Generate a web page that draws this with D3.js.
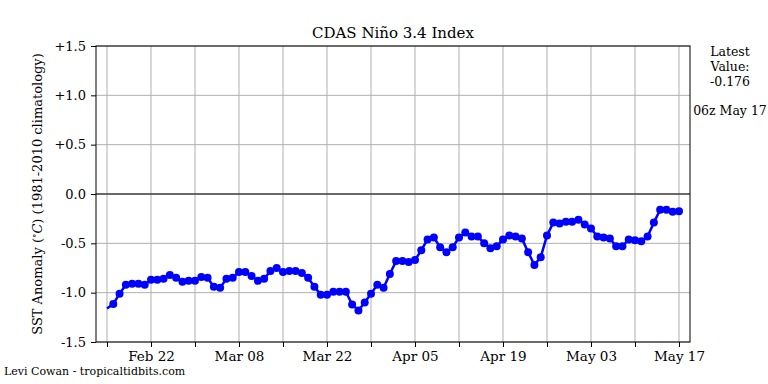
<!DOCTYPE html>
<html>
<head>
<meta charset="utf-8">
<script src="https://cdn.jsdelivr.net/npm/d3@7"></script>
<style>
  body { margin: 0; background: #fff; }
  text { font-family: "DejaVu Serif", serif; }
</style>
</head>
<body>
<svg id="chart" width="768" height="384"></svg>
<script>
// daily Nino 3.4 anomaly, Feb 15 -> May 17 (2021)
var startDate = new Date(Date.UTC(2021, 1, 15));
var anomaly = [
  -1.16, -1.115, -1.01, -0.92, -0.91, -0.91, -0.92, -0.87, -0.87, -0.86,
  -0.82, -0.85, -0.89, -0.88, -0.88, -0.84, -0.85, -0.94, -0.95, -0.86,
  -0.85, -0.79, -0.79, -0.83, -0.88, -0.86, -0.78, -0.75, -0.79, -0.78,
  -0.78, -0.80, -0.85, -0.94, -1.02, -1.02, -0.99, -0.99, -0.99, -1.12,
  -1.18, -1.10, -1.01, -0.92, -0.95, -0.81, -0.68, -0.68, -0.69, -0.67,
  -0.57, -0.46, -0.44, -0.54, -0.59, -0.54, -0.44, -0.39, -0.43, -0.43,
  -0.50, -0.55, -0.53, -0.46, -0.42, -0.43, -0.45, -0.59, -0.72, -0.64,
  -0.42, -0.29, -0.30, -0.28, -0.28, -0.26, -0.31, -0.35, -0.43, -0.44,
  -0.45, -0.53, -0.53, -0.46, -0.47, -0.48, -0.43, -0.29, -0.16, -0.16,
  -0.18, -0.176
];
var yTicks = [1.5, 1.0, 0.5, 0.0, -0.5, -1.0, -1.5];
var yTickLabels = ["+1.5", "+1.0", "+0.5", "0.0", "-0.5", "-1.0", "-1.5"];
var xTickLabels = ["Feb 22", "Mar 08", "Mar 22", "Apr 05", "Apr 19", "May 03", "May 17"];
var latestValue = "-0.176";
var latestTime = "06z May 17";

var data = anomaly.map(function(v, i) {
  return { date: d3.utcDay.offset(startDate, i), value: v };
});

var margin = {top: 46, right: 78, bottom: 42, left: 96}
  , width = 768 - margin.left - margin.right
  , height = 384 - margin.top - margin.bottom;

var svg = d3.select('#chart');

var x = d3.scaleUtc()
  .domain([d3.utcHour.offset(startDate, -42), d3.utcHour.offset(data[data.length - 1].date, 42)])
  .range([0, width]);
var y = d3.scaleLinear().domain([-1.5, 1.5]).range([height, 0]);

var main = svg.append('g')
  .attr('transform', 'translate(' + margin.left + ',' + margin.top + ')');

// weekly ticks, labels every two weeks
var weekTicks = d3.utcDay.range(startDate, d3.utcDay.offset(data[data.length - 1].date, 1), 7);

// grid
main.append('g').selectAll('line.vg').data(weekTicks).enter()
  .append('line')
  .attr('x1', function(d) { return x(d); })
  .attr('x2', function(d) { return x(d); })
  .attr('y1', 0).attr('y2', height)
  .attr('stroke', '#b0b0b0').attr('stroke-width', 1);
main.append('g').selectAll('line.hg').data(yTicks).enter()
  .append('line')
  .attr('x1', 0).attr('x2', width)
  .attr('y1', function(d) { return y(d); })
  .attr('y2', function(d) { return y(d); })
  .attr('stroke', '#b0b0b0').attr('stroke-width', 1);

// zero line
main.append('line')
  .attr('x1', 0).attr('x2', width)
  .attr('y1', y(0)).attr('y2', y(0))
  .attr('stroke', '#444').attr('stroke-width', 1.3);

// axes
var xAxis = d3.axisBottom(x).tickValues(weekTicks).tickSize(5).tickPadding(4)
  .tickFormat(function(d, i) { return i % 2 === 1 ? xTickLabels[(i - 1) / 2] : ''; });
var gx = main.append('g')
  .attr('transform', 'translate(0,' + height + ')')
  .call(xAxis);

var yAxis = d3.axisLeft(y).tickValues(yTicks).tickSize(5).tickPadding(5)
  .tickFormat(function(d, i) { return yTickLabels[i]; });
var gy = main.append('g').call(yAxis);

[gx, gy].forEach(function(g) {
  g.select('.domain').remove();
  g.selectAll('line').attr('stroke', '#000');
  g.selectAll('text').attr('fill', '#000')
    .style('font-family', '"DejaVu Serif", serif').style('font-size', '13px');
});
gx.selectAll('text').style('font-size', '13.5px');

// frame
main.append('rect')
  .attr('width', width).attr('height', height)
  .attr('fill', 'none').attr('stroke', '#000').attr('stroke-width', 1);

// series
var line = d3.line()
  .x(function(d) { return x(d.date); })
  .y(function(d) { return y(d.value); });

main.append('path')
  .datum(data)
  .attr('d', line)
  .attr('fill', 'none')
  .attr('stroke', '#0000ff')
  .attr('stroke-width', 2.5);

main.selectAll('circle').data(data.slice(1)).enter()
  .append('circle')
  .attr('cx', function(d) { return x(d.date); })
  .attr('cy', function(d) { return y(d.value); })
  .attr('r', 4)
  .attr('fill', '#0000ff');

// title
svg.append('text')
  .attr('x', margin.left + width / 2).attr('y', 38)
  .attr('text-anchor', 'middle')
  .style('font-size', '15px')
  .text('CDAS Niño 3.4 Index');

// y label
var yl = svg.append('text')
  .attr('transform', 'translate(42,' + (margin.top + height / 2) + ') rotate(-90)')
  .attr('text-anchor', 'middle')
  .style('font-size', '13px');
yl.append('tspan').text('SST Anomaly (');
yl.append('tspan').attr('dy', -5).style('font-size', '9px').text('∘');
yl.append('tspan').attr('dy', 5).style('font-style', 'italic').text('C');
yl.append('tspan').text(') (1981-2010 climatology)');

// latest value box
var info = svg.append('text')
  .attr('text-anchor', 'middle')
  .style('font-size', '12.5px');
info.append('tspan').attr('x', 730).attr('y', 56).text('Latest');
info.append('tspan').attr('x', 730).attr('y', 71).text('Value:');
info.append('tspan').attr('x', 730).attr('y', 86).text(latestValue);
svg.append('text')
  .attr('x', 730).attr('y', 115)
  .attr('text-anchor', 'middle')
  .style('font-size', '12.5px')
  .text(latestTime);

// credit
svg.append('text')
  .attr('x', 4).attr('y', 375)
  .style('font-size', '11px')
  .text('Levi Cowan - tropicaltidbits.com');
</script>
</body>
</html>
